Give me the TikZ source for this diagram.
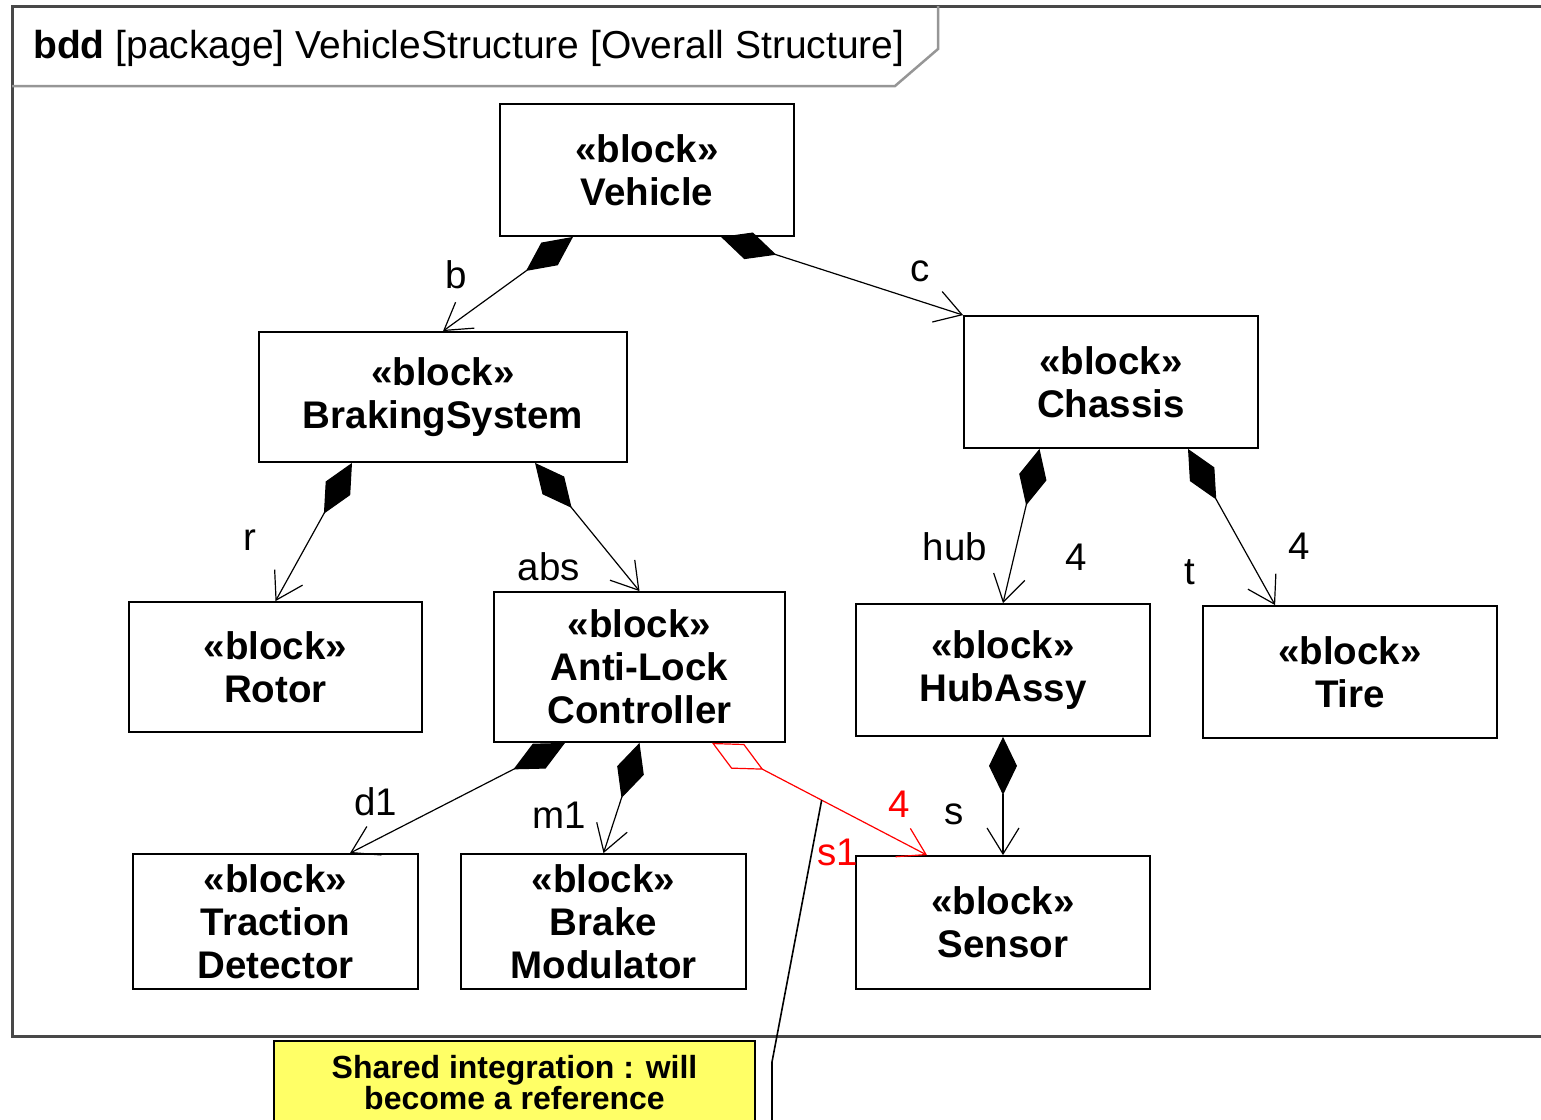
\documentclass[tikz,border=0pt]{standalone}
\usepackage{fontspec}
\setmainfont{Liberation Sans}
\usetikzlibrary{arrows.meta,calc}
\definecolor{framegray}{RGB}{72,72,72}
\definecolor{headgray}{RGB}{150,150,150}
\definecolor{noteyellow}{RGB}{255,255,102}
\definecolor{assocred}{RGB}{255,0,0}
\begin{document}
\begin{tikzpicture}[x=1pt,y=-1pt,
  block/.style={draw=black, line width=1.8pt, fill=white, align=center, inner sep=0pt,
    font=\bfseries\fontsize{38.5}{43}\selectfont},
  role/.style={anchor=base, inner sep=0pt, font=\fontsize{38.5}{43}\selectfont},
  comp/.style={draw=black, line width=1.2pt,
    arrows={Diamond[length=58pt,width=28pt]-Straight Barb[length=26pt,width=32pt]}},
  shared/.style={draw=assocred, line width=1.2pt,
    arrows={Diamond[fill=white,length=58pt,width=28pt]-Straight Barb[length=26pt,width=32pt]}}
]
\useasboundingbox (0,0) rectangle (1541,1119);
\clip (0,0) rectangle (1541,1119);

% diagram frame and its header
\draw[framegray, line width=3pt] (1560,6) -- (12,6) -- (12,1036) -- (1560,1036);
\draw[headgray, line width=2.5pt] (12,86) -- (895,86) -- (938,49) -- (938,6);
\node[anchor=base west, inner sep=0pt, font=\fontsize{39}{43}\selectfont] (title) at (33,58)
  {\textbf{bdd} [package] VehicleStructure [Overall Structure]};

% blocks
\node[block, minimum width=294pt, minimum height=132pt] (veh)  at (647,170)    {«block»\\Vehicle};
\node[block, minimum width=368pt, minimum height=130pt] (bs)   at (443,397)    {«block»\\BrakingSystem};
\node[block, minimum width=294pt, minimum height=132pt] (ch)   at (1111,382)   {«block»\\Chassis};
\node[block, minimum width=293pt, minimum height=130pt] (rot)  at (275.5,667)  {«block»\\Rotor};
\node[block, minimum width=291pt, minimum height=150pt] (alc)  at (639.5,667)  {«block»\\Anti-Lock\\Controller};
\node[block, minimum width=294pt, minimum height=132pt] (hub)  at (1003,670)   {«block»\\HubAssy};
\node[block, minimum width=294pt, minimum height=132pt] (tire) at (1350,672)   {«block»\\Tire};
\node[block, minimum width=285pt, minimum height=135pt] (td)   at (275.5,921.5){«block»\\Traction\\Detector};
\node[block, minimum width=285pt, minimum height=135pt] (bm)   at (603.5,921.5){«block»\\Brake\\Modulator};
\node[block, minimum width=294pt, minimum height=133pt] (sen)  at (1003,922.5) {«block»\\Sensor};

% composite associations
\draw[comp] ([xshift=-74pt]veh.south) -- (bs.north);
\draw[comp] ([xshift=74pt]veh.south) -- (ch.north west);
\draw[comp] ([xshift=-91pt]bs.south) -- (rot.north);
\draw[comp] ([xshift=92pt]bs.south) -- (alc.north);
\draw[comp] ([xshift=-71.5pt]ch.south) -- (hub.north);
\draw[comp] ([xshift=77pt]ch.south) -- ([xshift=73pt]tire.north west);
\draw[comp] (hub.south) -- (sen.north);
\draw[comp] ([xshift=-74.5pt]alc.south) -- ([xshift=74.5pt]td.north);
\draw[comp] (alc.south) -- (bm.north);
% shared association
\draw[shared] ([xshift=72.5pt]alc.south) -- coordinate[pos=0.51] (tap) ([xshift=-76pt]sen.north);

% role names and multiplicities
\node[role] (lb)   at (456,288)  {b};
\node[role] (lc)   at (920,281)  {c};
\node[role] (lr)   at (250,550)  {r};
\node[role] (labs) at (549,580)  {abs};
\node[role] (lhub) at (955,560)  {hub};
\node[role] (mhub) at (1076,570) {4};
\node[role] (lt)   at (1190,584) {t};
\node[role] (mt)   at (1299,559) {4};
\node[role] (ls)   at (954,824)  {s};
\node[role] (ld)   at (376,815)  {d1};
\node[role] (lm)   at (559,828)  {m1};
\node[role, text=assocred] (mss) at (899,817) {4};
\node[role, text=assocred] (lss) at (838,865) {s1};

% note attached to the shared association
\node[draw=black, line width=1.8pt, fill=noteyellow, minimum width=481pt, minimum height=84pt,
  anchor=north, align=center, inner sep=0pt, font=\bfseries\fontsize{32}{31}\selectfont]
  (note) at (514.5,1040) {Shared integration : will\\become a reference};
\coordinate (bend) at (772,1062);
\draw[line width=1.6pt] (tap) -- (bend) -- (bend |- note.south);
\end{tikzpicture}
\end{document}
